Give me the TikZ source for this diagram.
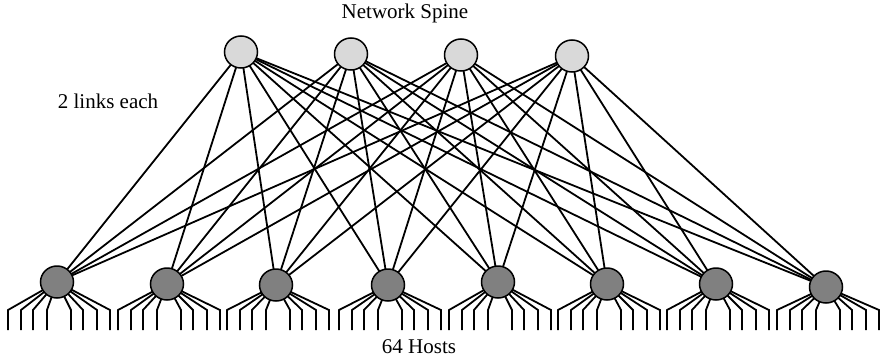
\documentclass[tikz,border=0pt]{standalone}
\usepackage{fontspec}
\setmainfont{Liberation Serif}
\usetikzlibrary{shapes.geometric,backgrounds}
\definecolor{spinegray}{RGB}{217,217,217}
\definecolor{leafgray}{RGB}{128,128,128}
\begin{document}
\begin{tikzpicture}[x=1pt,y=-1pt,
  spinenode/.style={ellipse,draw,line width=1.5pt,fill=spinegray,minimum width=33pt,minimum height=32pt,inner sep=0pt},
  leafnode/.style={ellipse,draw,line width=1.5pt,fill=leafgray,minimum width=33pt,minimum height=32pt,inner sep=0pt},
  link/.style={line width=1.8pt},
  host/.style={line width=1.8pt},
  lbl/.style={font=\fontsize{21}{24}\selectfont}]
\useasboundingbox (0,0) rectangle (880,359);
% spine
\node[spinenode] (s1) at (241,52) {};
\node[spinenode] (s2) at (351,54) {};
\node[spinenode] (s3) at (461,55) {};
\node[spinenode] (s4) at (572,56) {};
% leaves
\node[leafnode] (l1) at (57,282) {};
\node[leafnode] (l2) at (167,284) {};
\node[leafnode] (l3) at (276,285) {};
\node[leafnode] (l4) at (388,285) {};
\node[leafnode] (l5) at (498,282) {};
\node[leafnode] (l6) at (607,284) {};
\node[leafnode] (l7) at (716,284) {};
\node[leafnode] (l8) at (826,287) {};
% labels
\node[lbl] (title) at (405,13) {Network Spine};
\node[lbl] (links) at (108,101) {2 links each};
\node[lbl] (hosts) at (419,347) {64 Hosts};
\begin{scope}[on background layer]
  \foreach \s in {1,...,4}{
    \foreach \l in {1,...,8}{
      \draw[link] (s\s.center) -- (l\l.center);
    }
  }
  \foreach \l in {1,...,8}{
    \path (l\l.center) coordinate (c\l);
    \foreach \dx in {-49,-36,-24,-10,14,26,40,53}{
      \path (c\l) ++(\dx,0) coordinate (t) ;
      \draw[host] (c\l) -- (t |- 0,310) -- (t |- 0,330);
    }
  }
\end{scope}
\end{tikzpicture}
\end{document}
